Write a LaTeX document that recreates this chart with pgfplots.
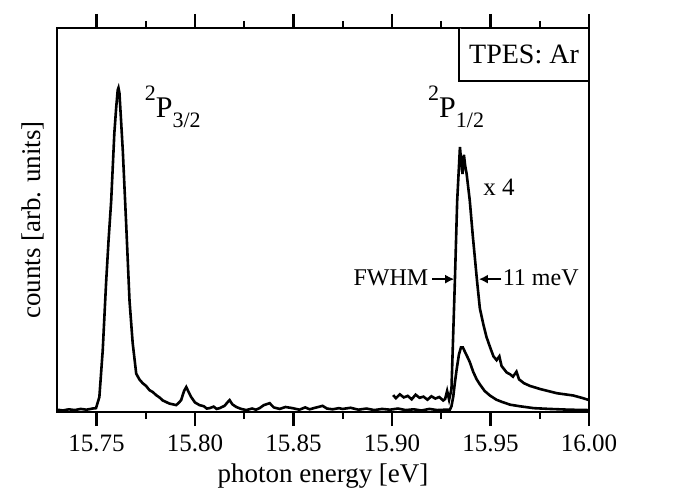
\documentclass[border=0pt]{standalone}
\usepackage{fontspec}
\setmainfont{Liberation Serif}
\usepackage{pgfplots}
\pgfplotsset{compat=1.18}
\usetikzlibrary{arrows.meta}
\begin{document}
\begin{tikzpicture}
\begin{axis}[
  name=ax,
  scale only axis,
  width=266pt, height=192pt,
  xmin=15.73, xmax=16.00,
  ymin=0, ymax=100,
  xtick={15.75,15.80,15.85,15.90,15.95,16.00},
  xticklabels={15.75,15.80,15.85,15.90,15.95,16.00},
  minor xtick={15.775,15.825,15.875,15.925,15.975},
  ytick=\empty,
  xtick pos=both,
  xticklabel pos=lower,
  tick align=outside,
  major tick length=7pt,
  minor tick length=3.5pt,
  every tick/.style={black, line width=1.1pt},
  axis line style={line width=1.4pt},
  ticklabel style={font=\fontsize{12.5}{14}\selectfont, yshift=-1pt},
  xlabel={photon energy [eV]},
  ylabel={counts [arb. units]},
  label style={font=\fontsize{13.5}{16}\selectfont},
  xlabel style={at={(axis description cs:0.5,-0.168)}, anchor=center},
  ylabel style={at={(axis description cs:-0.045,0.5)}, anchor=center},
]
% main spectrum
\addplot[black, line width=1.3pt] coordinates {
(15.730,0.6) (15.733,0.4) (15.736,0.7) (15.739,0.5) (15.742,0.8) (15.745,0.6) (15.748,0.9)
(15.7498,1.0) (15.7515,3.9) (15.7532,16) (15.7549,33.5) (15.7562,45) (15.7575,55)
(15.7591,72.6) (15.7600,79) (15.7608,83.8) (15.7612,84.4) (15.7617,83) (15.7625,76)
(15.7634,68) (15.7651,49) (15.7668,29) (15.7684,18) (15.7702,10) (15.7718,8.5)
(15.7735,7.5) (15.7752,6.8) (15.7769,5.7) (15.7786,5.2) (15.7803,4.4) (15.7820,3.8)
(15.7837,3.0) (15.7854,2.6) (15.7870,2.2) (15.7888,2.0) (15.7905,1.8) (15.7918,2.4)
(15.7930,3.1) (15.7945,5.5) (15.7956,6.5) (15.7968,5.2) (15.7981,3.9) (15.8000,2.5)
(15.8023,1.8) (15.8045,1.5) (15.8060,0.9) (15.8074,1.0) (15.8095,1.4) (15.8110,0.8)
(15.8125,1.0) (15.8150,1.6) (15.8165,2.5) (15.8176,3.1) (15.8190,2.0) (15.8210,1.3)
(15.8235,0.8) (15.8261,0.5) (15.8290,0.9) (15.8310,0.6) (15.8328,1.0) (15.8350,1.8)
(15.8379,2.3) (15.8400,1.2) (15.8430,0.8) (15.8460,1.3) (15.8496,1.0) (15.8530,0.6)
(15.8560,1.2) (15.8582,0.7) (15.8610,1.1) (15.8648,1.6) (15.8670,0.9) (15.8699,0.7)
(15.8730,1.0) (15.8750,0.8) (15.879,1.1) (15.883,0.6) (15.887,0.9) (15.891,0.5)
(15.895,0.8) (15.899,0.6) (15.903,0.9) (15.907,0.5) (15.911,0.7) (15.915,0.4)
(15.919,0.8) (15.923,0.5) (15.927,0.6) (15.9294,0.6) (15.9302,1.5) (15.9311,4)
(15.9319,7.5) (15.9328,11) (15.9340,15) (15.9350,16.8) (15.9360,16.8) (15.9372,15.5)
(15.9386,14) (15.9395,13) (15.9412,10.5) (15.9430,8.5) (15.9446,7.2) (15.9470,5.5)
(15.9497,4.3) (15.9530,3.2) (15.9560,2.6) (15.9600,1.9) (15.9649,1.5) (15.972,1.0)
(15.980,0.8) (15.990,0.6) (16.000,0.5)
};
% x4 magnified part
\addplot[black, line width=1.3pt] coordinates {
(15.9006,4.4) (15.902,3.6) (15.904,4.6) (15.906,3.8) (15.908,4.2) (15.910,3.3)
(15.912,4.5) (15.914,3.7) (15.916,4.0) (15.918,3.2) (15.920,4.1) (15.922,3.5)
(15.924,3.9) (15.926,3.0) (15.927,3.4) (15.928,5.5) (15.9290,3.2) (15.9302,6)
(15.9319,33.6) (15.9331,55) (15.9345,69) (15.9350,66) (15.9358,62) (15.9365,67)
(15.9372,64) (15.9379,62) (15.9395,55) (15.9410,46) (15.9432,34) (15.9446,27)
(15.9463,23) (15.9480,19.5) (15.9497,17) (15.9515,14.5) (15.9531,13.5) (15.9545,14.5)
(15.9556,12) (15.9582,10.3) (15.9600,9.8) (15.9614,9.2) (15.9632,10.5) (15.9645,8.5)
(15.9670,7.5) (15.9700,6.8) (15.9751,6.0) (15.9836,4.9) (15.9920,4.3) (15.9970,3.6)
(16.000,3.1)
};
% annotations
\node[anchor=base west, inner sep=0pt] at (axis cs:15.7744,76.8)
  {\fontsize{15}{18}\selectfont\raisebox{0.55em}{\fontsize{11}{12}\selectfont 2}P\raisebox{-0.35em}{\fontsize{11}{12}\selectfont 3/2}};
\node[anchor=base west, inner sep=0pt] at (axis cs:15.9182,76.8)
  {\fontsize{15}{18}\selectfont\raisebox{0.55em}{\fontsize{11}{12}\selectfont 2}P\raisebox{-0.35em}{\fontsize{11}{12}\selectfont 1/2}};
\node[font=\fontsize{12.5}{14}\selectfont] at (axis cs:15.9543,58.6) {x 4};
\node[font=\fontsize{12}{14}\selectfont] at (axis cs:15.8995,34.9) {FWHM};
\node[font=\fontsize{12}{14}\selectfont] at (axis cs:15.9755,34.9) {11 meV};
\draw[line width=1.1pt, -{Latex[length=4.5pt,width=4.5pt]}] (axis cs:15.9205,34.6) -- (axis cs:15.9316,34.6);
\draw[line width=1.1pt, -{Latex[length=4.5pt,width=4.5pt]}] (axis cs:15.9555,34.6) -- (axis cs:15.9441,34.6);
\draw[line width=1.3pt, fill=white] (axis cs:15.934,100) -- (axis cs:15.934,86.2) -- (axis cs:16.0,86.2);
\node[font=\fontsize{14}{16}\selectfont] at (axis cs:15.967,93.2) {TPES: Ar};
\end{axis}
\pgfresetboundingbox
\useasboundingbox ([xshift=-28.5pt,yshift=-43pt]ax.south west) rectangle ([xshift=52.5pt,yshift=14pt]ax.north east);
\end{tikzpicture}
\end{document}
